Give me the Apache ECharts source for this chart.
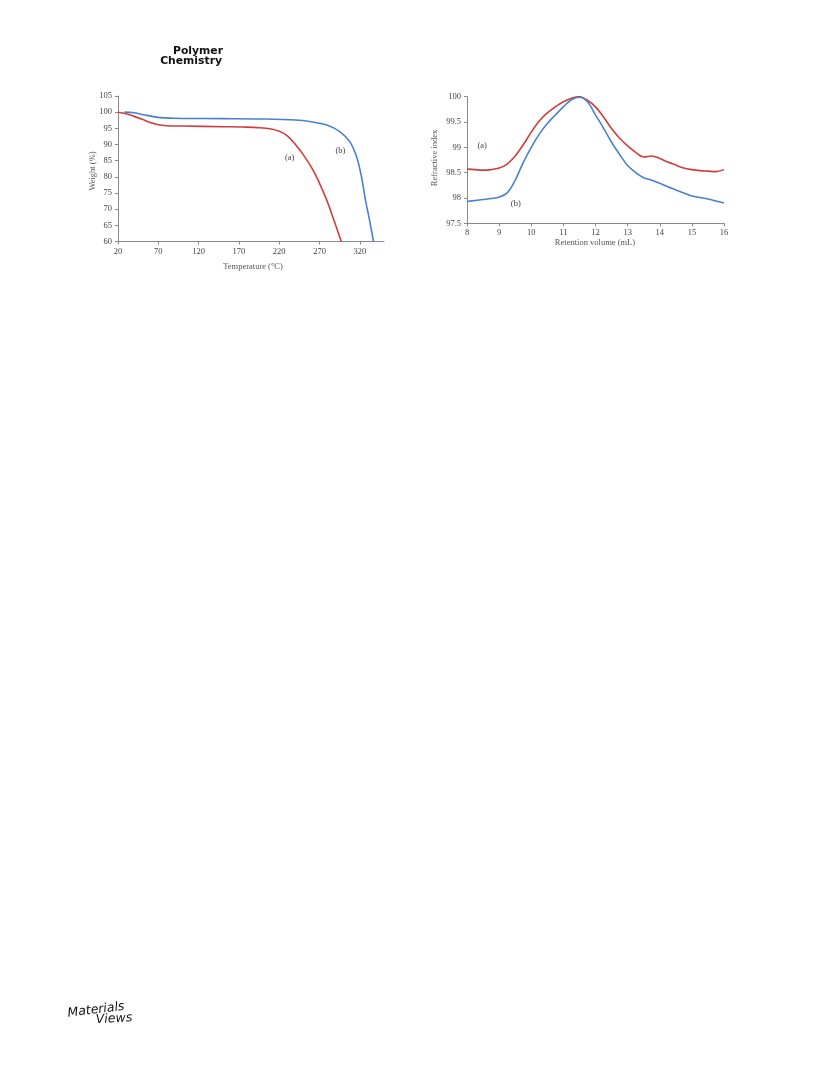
<!DOCTYPE html>
<html><head><meta charset="utf-8">
<script src="https://cdn.jsdelivr.net/npm/echarts@6/dist/echarts.min.js"></script>
<style>html,body{margin:0;padding:0;background:#fff}#c{width:816px;height:1079px}</style>
</head><body><div id="c"></div>
<script>
// TGA (left)
const tgaTempA = [20,30,40,50,60,70,80,100,150,175,196,210,221,230,237,250,262,270,279,287,297];
const tgaWeightA = [100,99.5,98.7,97.8,96.8,96.1,95.8,95.7,95.5,95.4,95.2,94.8,94.0,92.7,90.9,86.8,82.1,78.0,72.8,67.2,60];
const tgaTempB = [28,40,50,70,90,100,150,200,240,258,279,295,307.5,316,322,327,332,337];
const tgaWeightB = [100,99.8,99.3,98.4,98.1,98.05,98.0,97.9,97.6,97.1,96.0,94.0,90.9,86.2,80.1,72.8,66.7,60];
const tgaXTicks = {min:20, max:350, interval:50};
const tgaYTicks = {min:60, max:105, interval:5};
// GPC (right)
const gpcVol = [8,8.25,8.5,8.75,9,9.25,9.5,9.75,10,10.25,10.5,10.75,11,11.25,11.5,11.75,12,12.25,12.5,12.75,13,13.25,13.5,13.75,14,14.25,14.5,14.75,15,15.25,15.5,15.75,16];
const gpcRIA = [98.57,98.56,98.55,98.56,98.59,98.67,98.83,99.05,99.3,99.52,99.68,99.8,99.9,99.97,100,99.93,99.8,99.6,99.37,99.18,99.03,98.9,98.81,98.83,98.78,98.71,98.65,98.59,98.56,98.54,98.53,98.52,98.56];
const gpcRIB = [97.93,97.95,97.97,97.99,98.02,98.1,98.35,98.7,99.0,99.26,99.47,99.64,99.8,99.94,99.99,99.9,99.64,99.38,99.1,98.86,98.64,98.5,98.4,98.35,98.29,98.22,98.16,98.1,98.04,98.01,97.98,97.94,97.9];
const gpcXTicks = {min:8, max:16, interval:1};
const gpcYTicks = {min:97.5, max:100, interval:0.5};
const seriesLabels = ['(a)','(b)'];
const tgaLabelPos = [[233,86.0],[296,88.0]];
const gpcLabelPos = [[8.47,99.03],[9.52,97.88]];

const RED = '#cf3e3e', BLUE = '#4a80d2';
const serif = '"Liberation Serif","DejaVu Serif",serif';
const axLine = {show:true, lineStyle:{color:'#8a8a8a', width:1}};
const tick = {show:true, length:3, lineStyle:{color:'#8a8a8a'}};
const lblStyle = {color:'#444', fontFamily:serif, fontSize:8.5};

function zip(x,y){return x.map((v,i)=>[v,y[i]]);}
function mk(label, pos){
  return {symbol:'circle', symbolSize:0, silent:true,
    data:[{coord:pos, label:{show:true, formatter:label, position:'inside', color:'#444', fontFamily:serif, fontSize:8.5}}]};
}

const chart = echarts.init(document.getElementById('c'), null, {renderer:'canvas'});
chart.setOption({
  animation:false,
  grid:[
    {left:118, top:96, width:266, height:145.5},
    {left:467, top:96.7, width:257, height:126.6}
  ],
  xAxis:[
    {gridIndex:0, type:'value', min:tgaXTicks.min, max:tgaXTicks.max, interval:tgaXTicks.interval,
     axisLine:axLine, axisTick:tick, splitLine:{show:false},
     axisLabel:Object.assign({margin:6, showMaxLabel:false}, lblStyle)},
    {gridIndex:1, type:'value', min:gpcXTicks.min, max:gpcXTicks.max, interval:gpcXTicks.interval,
     axisLine:axLine, axisTick:tick, splitLine:{show:false},
     axisLabel:Object.assign({margin:5}, lblStyle)}
  ],
  yAxis:[
    {gridIndex:0, type:'value', min:tgaYTicks.min, max:tgaYTicks.max, interval:tgaYTicks.interval,
     axisLine:axLine, axisTick:tick, splitLine:{show:false},
     axisLabel:Object.assign({margin:6}, lblStyle)},
    {gridIndex:1, type:'value', min:gpcYTicks.min, max:gpcYTicks.max, interval:gpcYTicks.interval,
     axisLine:axLine, axisTick:tick, splitLine:{show:false},
     axisLabel:Object.assign({margin:6}, lblStyle)}
  ],
  series:[
    {type:'line', xAxisIndex:0, yAxisIndex:0, data:zip(tgaTempA,tgaWeightA), smooth:0.35, showSymbol:false,
     lineStyle:{color:RED, width:1.6}, markPoint:mk(seriesLabels[0], tgaLabelPos[0])},
    {type:'line', xAxisIndex:0, yAxisIndex:0, data:zip(tgaTempB,tgaWeightB), smooth:0.35, showSymbol:false,
     lineStyle:{color:BLUE, width:1.6}, markPoint:mk(seriesLabels[1], tgaLabelPos[1])},
    {type:'line', xAxisIndex:1, yAxisIndex:1, data:zip(gpcVol,gpcRIA), smooth:0.35, showSymbol:false,
     lineStyle:{color:RED, width:1.6}, markPoint:mk(seriesLabels[0], gpcLabelPos[0])},
    {type:'line', xAxisIndex:1, yAxisIndex:1, data:zip(gpcVol,gpcRIB), smooth:0.35, showSymbol:false,
     lineStyle:{color:BLUE, width:1.6}, markPoint:mk(seriesLabels[1], gpcLabelPos[1])}
  ],
  graphic:[
    {type:'text', x:223, y:46, style:{text:'Polymer', align:'right', verticalAlign:'top', fill:'#111', font:'bold 10.8px "DejaVu Sans",sans-serif'}},
    {type:'text', x:222, y:56, style:{text:'Chemistry', align:'right', verticalAlign:'top', fill:'#111', font:'bold 10.8px "DejaVu Sans",sans-serif'}},
    {type:'text', x:253, y:267, style:{text:'Temperature (°C)', align:'center', verticalAlign:'middle', fill:'#555', font:'8.5px '+serif}},
    {type:'text', x:92.5, y:171, rotation:Math.PI/2, style:{text:'Weight (%)', align:'center', verticalAlign:'middle', fill:'#555', font:'8.5px '+serif}},
    {type:'text', x:595, y:243, style:{text:'Retention volume (mL)', align:'center', verticalAlign:'middle', fill:'#555', font:'8.5px '+serif}},
    {type:'text', x:435, y:158, rotation:Math.PI/2, style:{text:'Refractive index', align:'center', verticalAlign:'middle', fill:'#555', font:'8.5px '+serif}},
    {type:'text', x:96, y:1010, rotation:0.12, style:{text:'Materials', align:'center', verticalAlign:'middle', fill:'#111', font:'italic 12.5px "DejaVu Sans",sans-serif'}},
    {type:'text', x:114, y:1019, rotation:0.06, style:{text:'Views', align:'center', verticalAlign:'middle', fill:'#111', font:'italic 12.5px "DejaVu Sans",sans-serif'}}
  ]
});
</script></body></html>
